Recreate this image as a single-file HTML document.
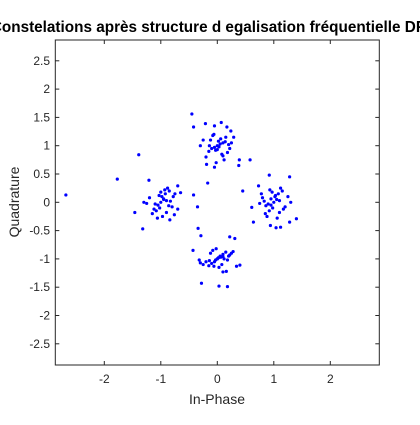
<!DOCTYPE html>
<html><head><meta charset="utf-8"><style>
body{margin:0;background:#fff;width:420px;height:420px;overflow:hidden}
svg{font-family:"Liberation Sans",Arial,sans-serif}
</style></head><body>
<svg id="chart" width="420" height="420">
<rect width="420" height="420" fill="#fff"/>
<text x="208" y="32" text-anchor="middle" font-size="15.3" font-weight="bold" fill="#000">Constelations après structure d egalisation fréquentielle DF</text>
<rect x="55.3" y="40" width="324" height="325" fill="#fff" stroke="#262626" stroke-width="1"/>
<g id="ticks"></g>
<g id="points"></g>
<text x="217" y="404" text-anchor="middle" font-size="14" fill="#262626">In-Phase</text>
<text x="0" y="0" transform="translate(19,202) rotate(-90)" text-anchor="middle" font-size="14" fill="#262626">Quadrature</text>
</svg>
<script>
const xTicks=[-2,-1,0,1,2];
const yTicks=[2.5,2,1.5,1,0.5,0,-0.5,-1,-1.5,-2,-2.5];
const xs=[-2.68,-1.77,-1.39,-1.46,-1.32,-1.21,-0.45,-0.42,-0.17,-0.42,-0.35,-0.34,-0.29,-0.43,-0.28,0.03,0.18,0.22,0.31,0.39,0.38,0.58,0.45,0.61,0.64,1.4,1.28,1.28,1.04,1.12,0.94,0.92,0.73,0.4,0.34,0.1,0.16,-0.32,0.07,-0.21,-0.05,0.17,0.24,0.29,-0.05,-0.19,-0.7,-0.65,-0.7,-0.84,-0.76,
0,0.05,-0.05,0.02,-0.03,0.1,-0.1,0.08,-0.12,0.15,-0.15,0.2,-0.2,0.12,-0.08,0.03,0.25,-0.25,0.18,-0.02,0.06,-0.14,0.22,-0.3,0.1,0.0,-0.06,0.14,
-1,-0.95,-1.05,-0.98,-1.02,-0.9,-1.1,-0.92,-1.08,-0.85,-1.15,-0.8,-1.2,-0.88,-0.97,-1.03,-0.78,-1.25,-0.9,-1.0,-0.83,-1.12,-0.95,-1.3,-0.86,-0.75,-1.06,-0.93,
1,1.05,0.95,1.02,0.98,1.1,0.9,1.08,0.92,1.15,0.85,1.2,0.8,1.12,0.88,1.03,1.25,0.75,1.1,0.97,0.83,1.17,0.95,1.3,0.86,0.78,1.06,0.93,
0,0.05,-0.05,0.02,-0.03,0.1,-0.1,0.08,-0.12,0.15,-0.15,0.2,-0.2,0.12,-0.08,0.03,0.25,-0.25,0.18,-0.02,0.06,-0.14,0.22,-0.3,0.1,0.0,-0.06,0.28];
const ys=[0.13,0.41,0.84,-0.18,-0.47,0.39,1.56,1.33,0.34,0.13,-0.08,-0.46,-0.59,-0.85,-1.43,-1.48,-1.49,-0.61,-0.64,0.75,0.65,0.75,0.2,-0.09,-0.35,-0.29,0.45,-0.35,-0.45,-0.44,-0.41,0.48,0.29,-1.11,-1.13,-1.23,-1.22,-1.02,1.41,1.39,1.35,1.33,1.26,1.15,0.62,0.67,0.29,0.17,-0.12,-0.31,-0.22,
1,1.03,0.97,1.08,0.92,1.05,0.95,0.85,1.1,1.15,0.9,1.02,0.8,0.75,1.18,0.98,1.05,1.1,0.88,0.7,1.12,1.0,0.95,1.0,0.82,0.93,1.2,1.07,
0,0.05,-0.05,0.1,-0.1,0.03,-0.03,0.15,-0.15,0.2,-0.2,-0.08,0.08,0.25,-0.25,0.12,0.1,-0.02,-0.18,0.18,0.02,-0.12,0.06,0.0,-0.06,0.15,-0.28,0.22,
0,0.05,-0.05,0.1,-0.1,0.03,-0.03,0.15,-0.15,0.2,-0.2,-0.08,0.08,0.25,-0.25,0.12,0.1,-0.02,-0.18,0.18,0.02,-0.12,0.06,0.0,-0.06,0.15,-0.28,0.22,
-1,-0.95,-1.05,-0.98,-1.02,-0.92,-1.08,-1.1,-0.9,-0.88,-1.12,-0.95,-1.05,-1.0,-0.85,-1.15,-0.9,-1.1,-1.02,-0.82,-0.97,-1.03,-0.93,-1.07,-0.96,-1.0,-1.13,-0.87];
const X=v=>217.3+v*56.5, Y=v=>202.3-v*56.6;
const NS='http://www.w3.org/2000/svg';
const tg=document.getElementById('ticks'), pg=document.getElementById('points');
function mk(t,a,p){const e=document.createElementNS(NS,t);for(const k in a)e.setAttribute(k,a[k]);p.appendChild(e);return e;}
xTicks.forEach(v=>{const x=X(v);
mk('line',{x1:x,x2:x,y1:365,y2:361,stroke:'#262626'},tg);
mk('line',{x1:x,x2:x,y1:40,y2:44,stroke:'#262626'},tg);
const t=mk('text',{x:x,y:383,'text-anchor':'middle','font-size':12,fill:'#262626'},tg);t.textContent=v;

});
yTicks.forEach(v=>{const y=Y(v);
mk('line',{x1:55.3,x2:59.3,y1:y,y2:y,stroke:'#262626'},tg);
mk('line',{x1:379.3,x2:375.3,y1:y,y2:y,stroke:'#262626'},tg);
const t=mk('text',{x:50,y:y+4,'text-anchor':'end','font-size':12,fill:'#262626'},tg);t.textContent=v;

});
xs.forEach((v,i)=>{const c=mk('circle',{cx:X(v),cy:Y(ys[i]),r:1.6,fill:'#0000ff'},pg);

});
</script>
</body></html>
